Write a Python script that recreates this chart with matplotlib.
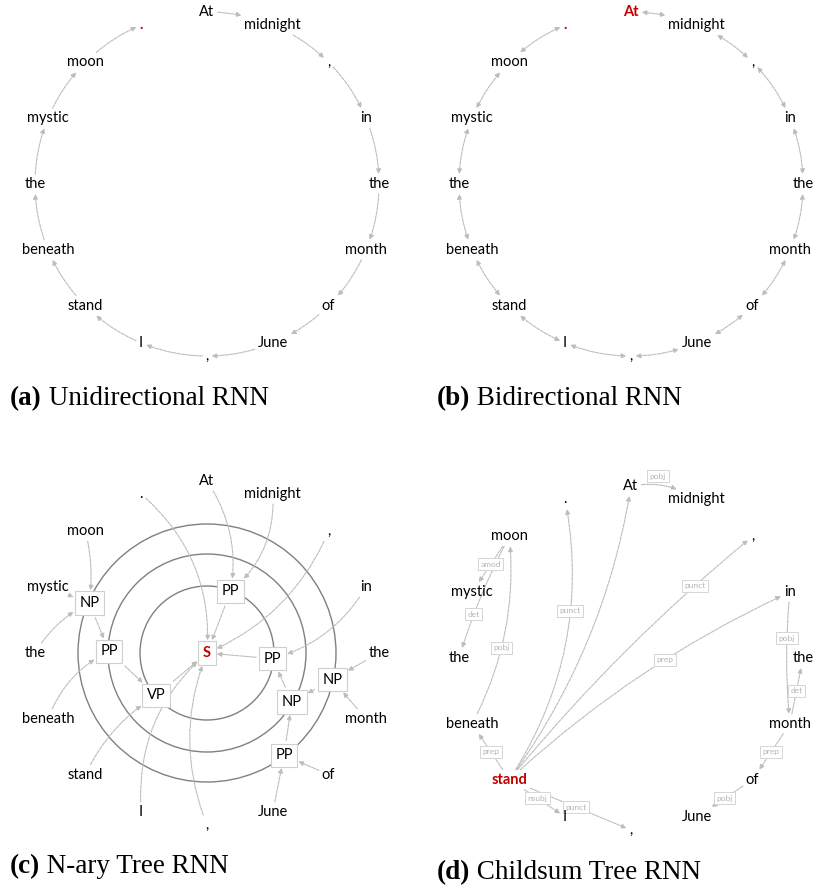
import numpy as np
import matplotlib.pyplot as plt
from matplotlib.patches import FancyArrowPatch, Rectangle, Circle

plt.rcParams['font.family'] = ['Lato', 'DejaVu Sans']

# the sentence, read clockwise round every circle
words = ["At", "midnight", ",", "in", "the", "month", "of", "June", ",",
         "I", "stand", "beneath", "the", "mystic", "moon", "."]

# constituency tree: phrase nodes and child -> parent links
phrases = ["S", "PP", "PP", "VP", "PP", "NP", "NP", "NP", "PP"]
tree_links = [("w0", "p1"), ("w1", "p1"), ("p1", "p0"), ("w15", "p0"),
              ("w2", "p0"), ("w3", "p2"), ("p2", "p0"), ("p5", "p2"),
              ("w4", "p7"), ("w5", "p7"), ("p7", "p5"), ("p8", "p5"),
              ("w6", "p8"), ("w7", "p8"), ("w14", "p6"), ("w13", "p6"),
              ("w12", "p6"), ("p6", "p4"), ("w11", "p4"), ("p4", "p3"),
              ("w10", "p3"), ("p3", "p0"), ("w9", "p0"), ("w8", "p0")]

# dependency parse: head -> dependent with relation
dep_heads = [0, 10, 10, 10, 10, 10, 10, 10, 14, 14, 11, 3, 5, 5, 6]
dep_children = [1, 15, 0, 2, 3, 11, 9, 8, 13, 12, 14, 5, 4, 6, 7]
dep_labels = ["pobj", "punct", "", "punct", "prep", "prep", "nsubj", "punct",
              "amod", "det", "pobj", "pobj", "det", "prep", "pobj"]

captions = [("(a)", "Unidirectional RNN"), ("(b)", "Bidirectional RNN"),
            ("(c)", "N-ary Tree RNN"), ("(d)", "Childsum Tree RNN")]

# ---- layout / style ----
GRAY = '#bdbdbd'
RED = '#c00000'
R = 172
centers = [(207, 184), (631, 184), (207, 653), (631, 658)]
cap_pos = [(10, 405), (437, 405), (10, 873), (437, 879)]
ring_r = [0, 66, 98, 128]
node_ring = [0, 1, 1, 1, 2, 2, 3, 3, 3]
node_angle = [0, 69, -5, -140, 179, -30, 157, -12, -53]
tree_rad = [-0.2, -0.25, 0, -0.25, -0.2, -0.2, 0, 0, 0, 0, 0, 0, 0, 0,
            -0.1, 0, -0.15, 0, -0.2, 0, -0.15, 0, -0.25, -0.2]
dep_rad = [-0.2, 0.2, 0.12, -0.05, -0.08, 0, 0, 0, 0, 0.05, 0.15, 0.05, 0, 0, 0]
dep_t = [0.45, 0.62, 0.5, 0.78, 0.58, 0.5, 0.5, 0.55, 0.5, 0.65, 0.42, 0.35,
         0.5, 0.5, 0.5]
dep_shift = {0: (-4, -9)}

fig = plt.figure(figsize=(8.16, 8.85), dpi=100)
ax = fig.add_axes([0, 0, 1, 1])
ax.set_xlim(0, 816)
ax.set_ylim(885, 0)
ax.axis('off')


def ring_words(c, special):
    arts = []
    step = 360 / len(words)
    for i, w in enumerate(words):
        a = np.deg2rad(90 - step * i)
        x, y = c[0] + R * np.cos(a), c[1] - R * np.sin(a)
        kw = dict(fontsize=10.5, color='black')
        kw.update(special.get(i, {}))
        arts.append(ax.text(x, y, w, ha='center', va='center', zorder=5, **kw))
    return arts


ta = ring_words(centers[0], {15: dict(color=RED, fontweight='bold')})
tb = ring_words(centers[1], {0: dict(color=RED, fontweight='bold'),
                             15: dict(color=RED, fontweight='bold')})
tc = ring_words(centers[2], {})
td = ring_words(centers[3], {10: dict(color=RED, fontweight='bold')})

# rings and phrase nodes of panel c
sc = centers[2]
for r in ring_r[1:]:
    ax.add_patch(Circle(sc, r + 1, fill=False, ec='#808080', lw=1.0, zorder=1))
nodes = []
for k, p in enumerate(phrases):
    a = np.deg2rad(node_angle[k])
    r = ring_r[node_ring[k]]
    x, y = sc[0] + r * np.cos(a), sc[1] - r * np.sin(a)
    kw = dict(color=RED, fontweight='bold') if p == "S" else dict(color='black')
    nodes.append(ax.text(x, y, p, ha='center', va='center', fontsize=10.5, zorder=6,
                         bbox=dict(boxstyle='square,pad=0.32', fc='white',
                                   ec='#cfcfcf', lw=0.8), **kw))

fig.canvas.draw()
inv = ax.transData.inverted()


def box_of(art, m=3):
    patch = art.get_bbox_patch()
    bb = patch.get_window_extent() if patch is not None else art.get_window_extent()
    (x0, y0), (x1, y1) = inv.transform([[bb.x0, bb.y0], [bb.x1, bb.y1]])
    return Rectangle((min(x0, x1) - m, min(y0, y1) - m), abs(x1 - x0) + 2 * m,
                     abs(y1 - y0) + 2 * m, transform=ax.transData)


def link(a, b, rad, style='-|>', ma=3, mb=3):
    p = FancyArrowPatch(a.get_position(), b.get_position(),
                        patchA=box_of(a, ma), patchB=box_of(b, mb),
                        connectionstyle=f'arc3,rad={rad}', arrowstyle=style,
                        mutation_scale=7, lw=0.8, color=GRAY,
                        linestyle=(0, (3, 1)), shrinkA=0, shrinkB=0, zorder=2)
    ax.add_patch(p)


# (a) and (b): chain along the circle
for i in range(len(words) - 1):
    link(ta[i], ta[i + 1], -0.1)
    link(tb[i], tb[i + 1], -0.1, style='<|-|>')


# (c): constituency tree
def pick(key):
    return tc[int(key[1:])] if key[0] == 'w' else nodes[int(key[1:])]


for (child, parent), rad in zip(tree_links, tree_rad):
    link(pick(child), pick(parent), rad, mb=1 if parent[0] == 'p' else 3)

# (d): dependency arcs with relation labels
for k, (h, d, lab) in enumerate(zip(dep_heads, dep_children, dep_labels)):
    link(td[h], td[d], dep_rad[k])
    if not lab:
        continue
    A = np.array(td[h].get_position())
    B = np.array(td[d].get_position())
    dx, dy = B - A
    C = (A + B) / 2 + dep_rad[k] * np.array([-dy, dx])
    t = dep_t[k]
    P = (1 - t) ** 2 * A + 2 * t * (1 - t) * C + t ** 2 * B
    sx, sy = dep_shift.get(k, (0, 0))
    ax.text(P[0] + sx, P[1] + sy, lab, fontsize=6, color='#b5b5b5',
            ha='center', va='center', zorder=4,
            bbox=dict(boxstyle='square,pad=0.3', fc='white', ec='#d5d5d5', lw=0.7))

# captions
for (tag, name), (x, y) in zip(captions, cap_pos):
    t = ax.text(x, y, tag, fontfamily='Liberation Serif', fontweight='bold',
                fontsize=19.5, va='baseline', ha='left')
    ax.annotate(' ' + name, xy=(1, 0), xycoords=t, va='bottom', ha='left',
                fontfamily='Liberation Serif', fontsize=19.5)

fig.savefig('out.png', dpi=100)
